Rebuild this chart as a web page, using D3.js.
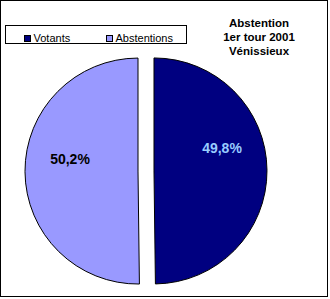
<!DOCTYPE html>
<html>
<head>
<meta charset="utf-8">
<script src="https://cdn.jsdelivr.net/npm/d3@7"></script>
<style>
  body { margin: 0; background: #fff; }
  text { font-family: Arial, "Liberation Sans", sans-serif; }
</style>
</head>
<body>
<div id="chart"></div>
<script>
// Data
var categories = ["Votants", "Abstentions"];
var values = [49.8, 50.2];
var colors = ["#000080", "#9999FF"];
var labelColors = ["#99CCFF", "#000000"];
var titleLines = ["Abstention", "1er tour 2001", "Vénissieux"];

var width = 330, height = 299;
var radius = 113;
var cx = 146, cy = 171;
var explode = 8;

var svg = d3.select("#chart").append("svg")
    .attr("width", width)
    .attr("height", height);

svg.append("rect")
    .attr("x", 0.5).attr("y", 0.5)
    .attr("width", 327).attr("height", 296)
    .attr("fill", "#fff")
    .attr("stroke", "#000");

var pie = d3.pie().sort(null).value(function(d) { return d; });
var arc = d3.arc().innerRadius(0).outerRadius(radius);

var arcs = pie(values);

var g = svg.append("g").attr("transform", "translate(" + cx + "," + cy + ")");

// label offsets (Excel places labels a bit higher than centroid)
var labelDy = [-22, -12];

var slice = g.selectAll("g.slice")
    .data(arcs)
    .enter().append("g")
    .attr("class", "slice")
    .attr("transform", function(d) {
      var mid = (d.startAngle + d.endAngle) / 2;
      return "translate(" + (Math.sin(mid) * explode) + "," + (-Math.cos(mid) * explode) + ")";
    });

slice.append("path")
    .attr("d", arc)
    .attr("fill", function(d, i) { return colors[i]; })
    .attr("stroke", "#000")
    .attr("stroke-width", 1);

var labelArc = d3.arc().innerRadius(68).outerRadius(68);

slice.append("text")
    .attr("x", function(d) { return labelArc.centroid(d)[0]; })
    .attr("y", function(d, i) { return labelArc.centroid(d)[1] + labelDy[i]; })
    .attr("dy", "0.35em")
    .attr("text-anchor", "middle")
    .style("font-size", "14px")
    .style("font-weight", "bold")
    .attr("fill", function(d, i) { return labelColors[i]; })
    .text(function(d, i) { return values[i].toFixed(1).replace(".", ",") + "%"; });

// Legend
var legend = svg.append("g");
legend.append("rect")
    .attr("x", 5.5).attr("y", 25.5)
    .attr("width", 181).attr("height", 18)
    .attr("fill", "#fff")
    .attr("stroke", "#000");

var legendX = [24, 106];
var item = legend.selectAll("g.item")
    .data(categories)
    .enter().append("g")
    .attr("transform", function(d, i) { return "translate(" + legendX[i] + ",35)"; });

item.append("rect")
    .attr("x", 0.5).attr("y", 0.5)
    .attr("width", 6).attr("height", 6)
    .attr("fill", function(d, i) { return colors[i]; })
    .attr("stroke", "#000");

item.append("text")
    .attr("x", 9.5)
    .attr("y", 6.5)
    .style("font-size", "11px")
    .attr("fill", "#000")
    .text(function(d) { return d; });

// Title
svg.append("g").selectAll("text")
    .data(titleLines)
    .enter().append("text")
    .attr("x", 259)
    .attr("y", function(d, i) { return 27 + i * 14; })
    .attr("text-anchor", "middle")
    .style("font-size", "11.5px")
    .style("font-weight", "bold")
    .attr("fill", "#000")
    .text(function(d) { return d; });
</script>
</body>
</html>
